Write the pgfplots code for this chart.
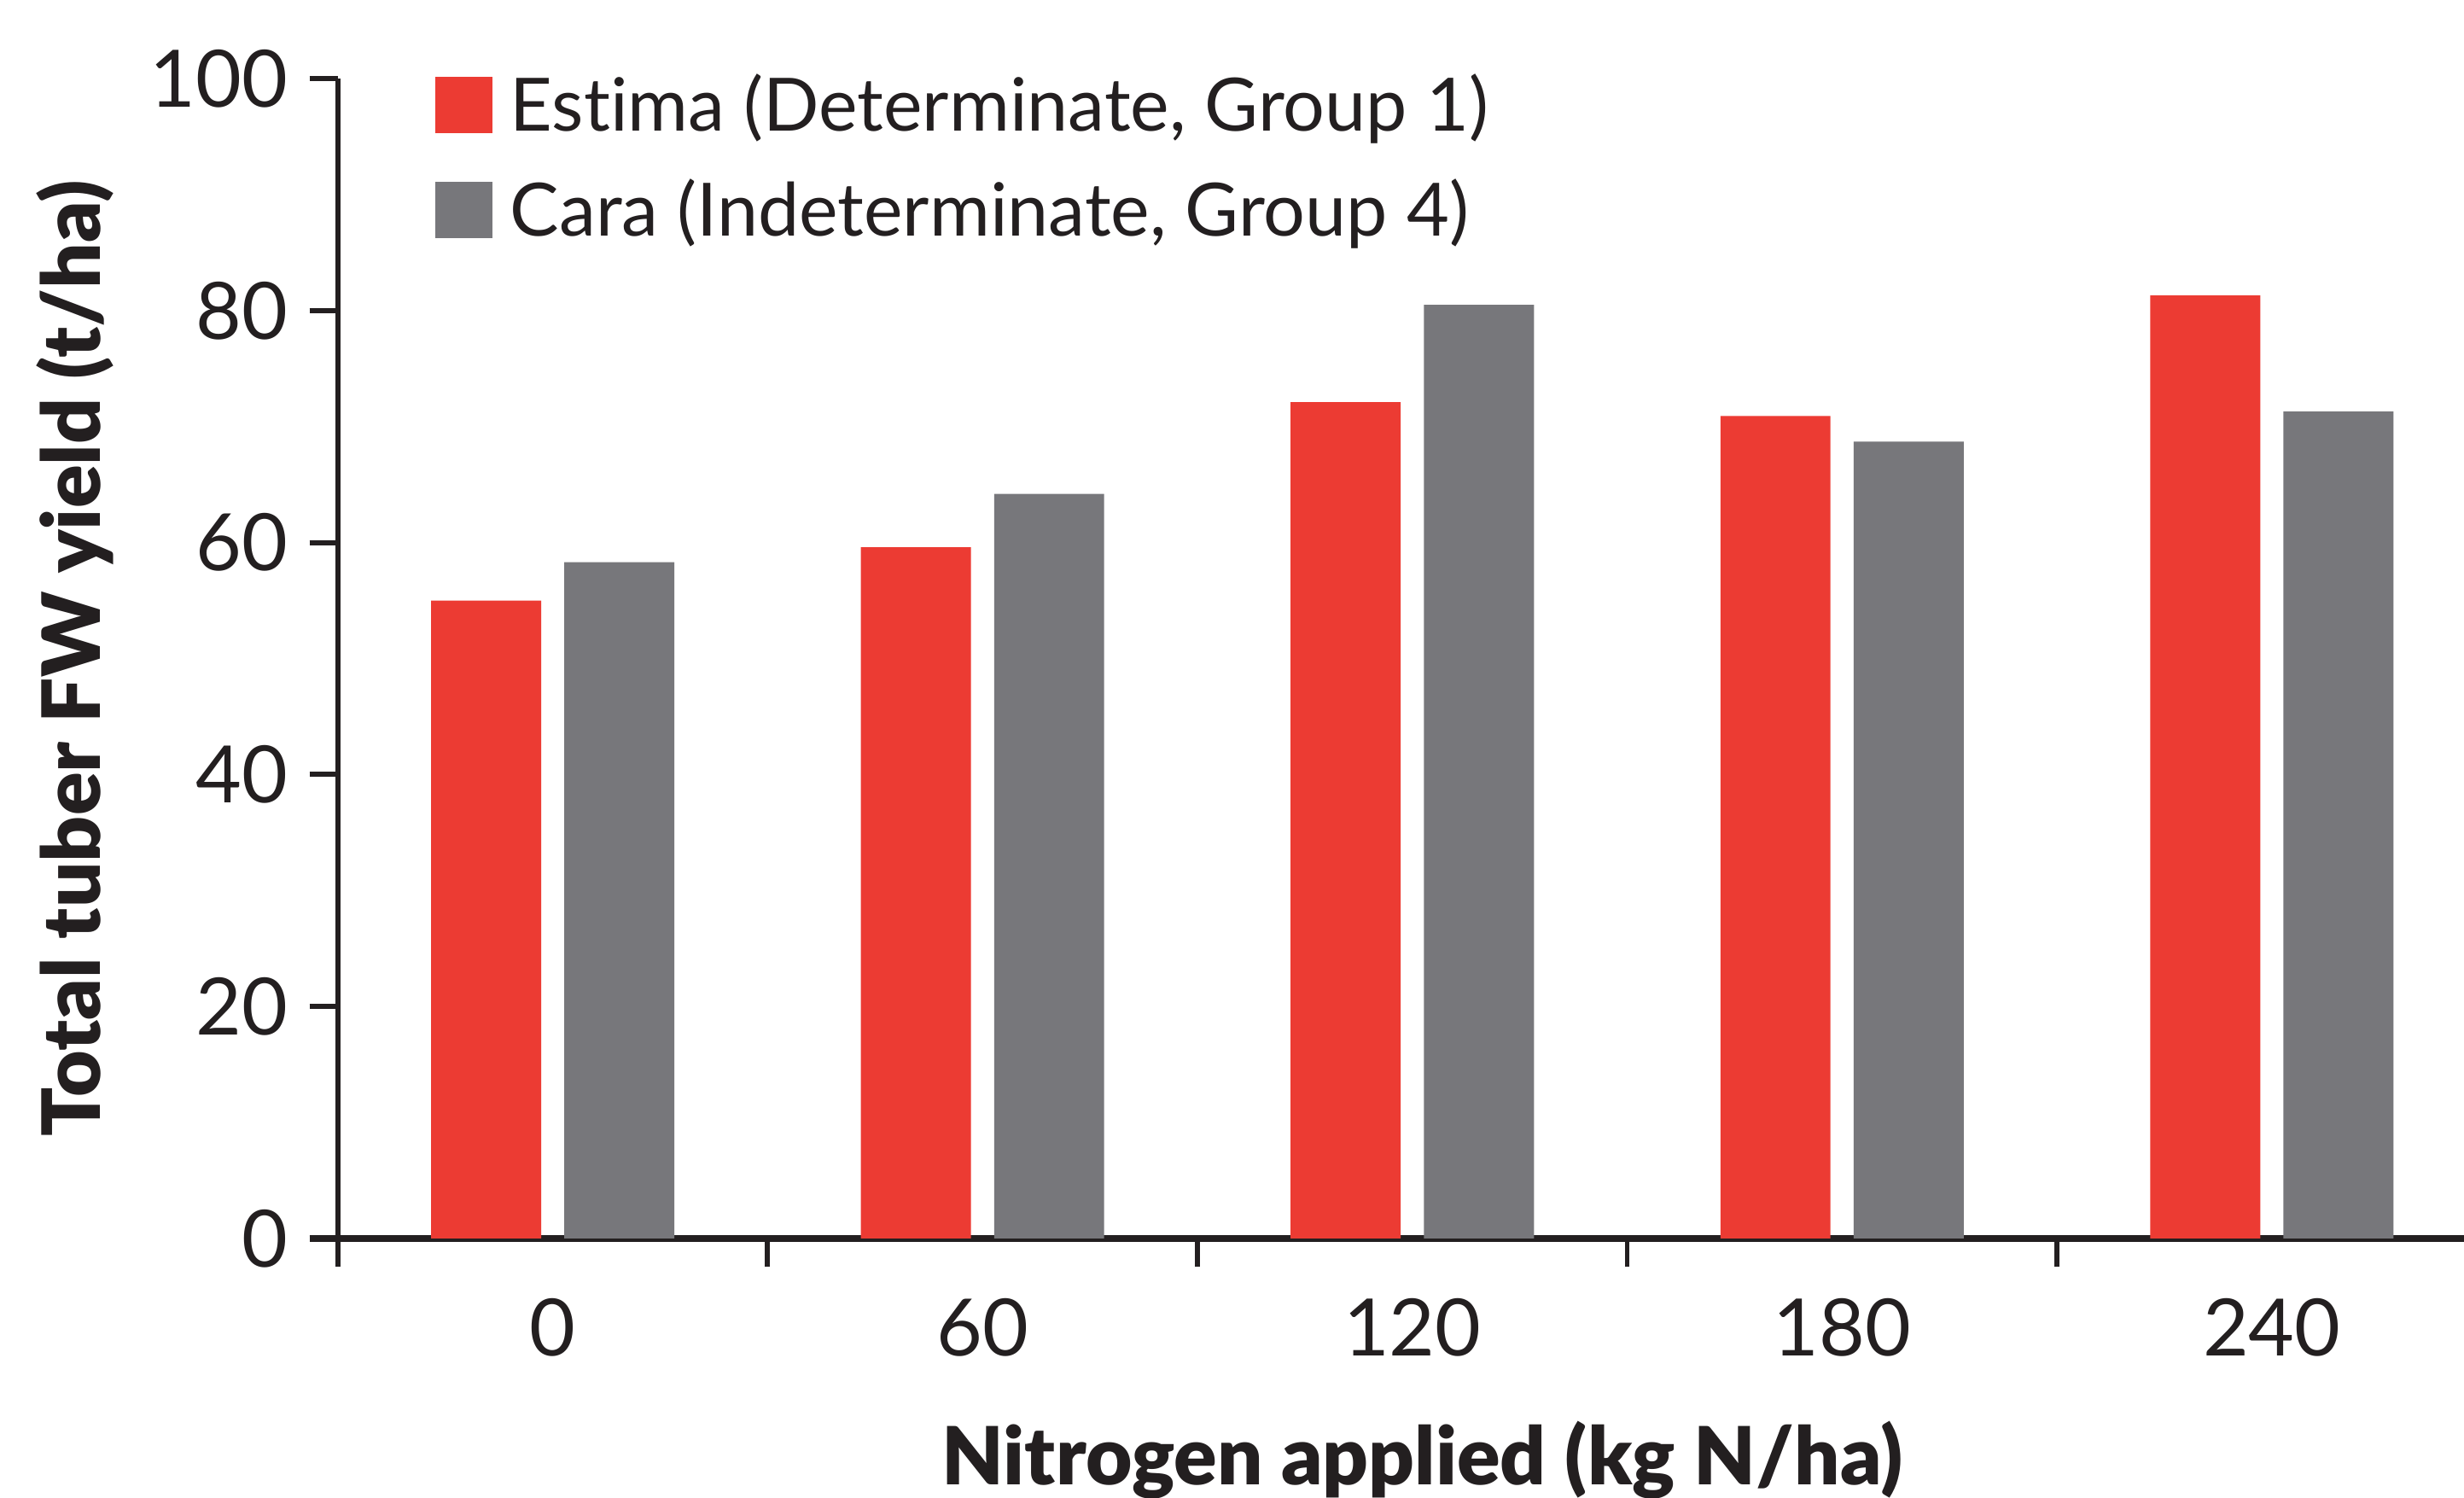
\documentclass[border=0pt]{standalone}
\usepackage{pgfplots}
\pgfplotsset{compat=1.18}
\usepackage{fontspec}
\setmainfont{Lato}[Ligatures=NoCommon]
\newfontfamily\latoblack{Lato Black}
\definecolor{cred}{HTML}{EC3B33}
\definecolor{cgray}{HTML}{77777B}
\definecolor{ink}{HTML}{231F20}
\begin{document}
\begin{tikzpicture}
\useasboundingbox (-53.75pt,-41.25pt) rectangle (338.25pt,197pt);
\begin{axis}[
  at={(0,0)}, anchor=south west,
  width=338.25pt, height=184.5pt, scale only axis,
  xmin=-0.5, xmax=4.447, ymin=0, ymax=100,
  axis lines=left,
  axis line style={-, ink},
  x axis line style={line width=1.1pt, shorten <=-4.5pt},
  y axis line style={line width=0.8pt},
  ybar, bar width=0.256,
  xtick={-0.5,0.5,1.5,2.5,3.5}, xticklabels={},
  extra x ticks={0,1,2,3,4},
  extra x tick labels={0,60,120,180,240},
  extra x tick style={major tick length=0pt},
  ytick={0,20,40,60,80,100},
  tick style={ink, line width=0.8pt},
  major tick length=4.5pt,
  tick align=outside,
  /pgf/number format/assume math mode=true,
  ticklabel style={font=\fontsize{12.6}{15}\selectfont, text=ink},
  yticklabel style={inner sep=0pt, xshift=-3.25pt},
  xticklabel style={anchor=base, inner sep=0pt, yshift=-18.75pt},
  xlabel={Nitrogen applied (kg N/ha)},
  xlabel style={at={(axis description cs:0.51,0)}, anchor=base, yshift=-39.25pt, font=\latoblack\fontsize{12.75}{15}\selectfont, text=ink, inner sep=0pt},
  ylabel={Total tuber FW yield (t/ha)},
  ylabel style={at={(axis description cs:-0.1234,0.5)}, anchor=center, font=\latoblack\fontsize{12.8}{15}\selectfont, text=ink, inner sep=0pt},
  legend style={at={(axis description cs:0.0451,1.005)}, anchor=north west, draw=none, fill=none, inner sep=0pt,
    font=\fontsize{11.7}{14}\selectfont, text=ink, row sep=5.75pt,
    nodes={inner sep=0pt, inner xsep=2.75pt, text height=9pt, text depth=2pt}},
  legend cell align=left,
  legend image code/.code={\fill[#1, draw=none] (0pt,-3.9pt) rectangle (9.2pt,5.1pt);},
]
\addplot[fill=cred, draw=none, bar shift=-0.155] coordinates {(0,55.0) (1,59.6) (2,72.1) (3,70.9) (4,81.3)};
\addlegendentry{Estima (Determinate, Group 1)}
\addplot[fill=cgray, draw=none, bar shift=0.155] coordinates {(0,58.3) (1,64.2) (2,80.5) (3,68.7) (4,71.3)};
\addlegendentry{Cara (Indeterminate, Group 4)}
\end{axis}
\end{tikzpicture}
\end{document}
